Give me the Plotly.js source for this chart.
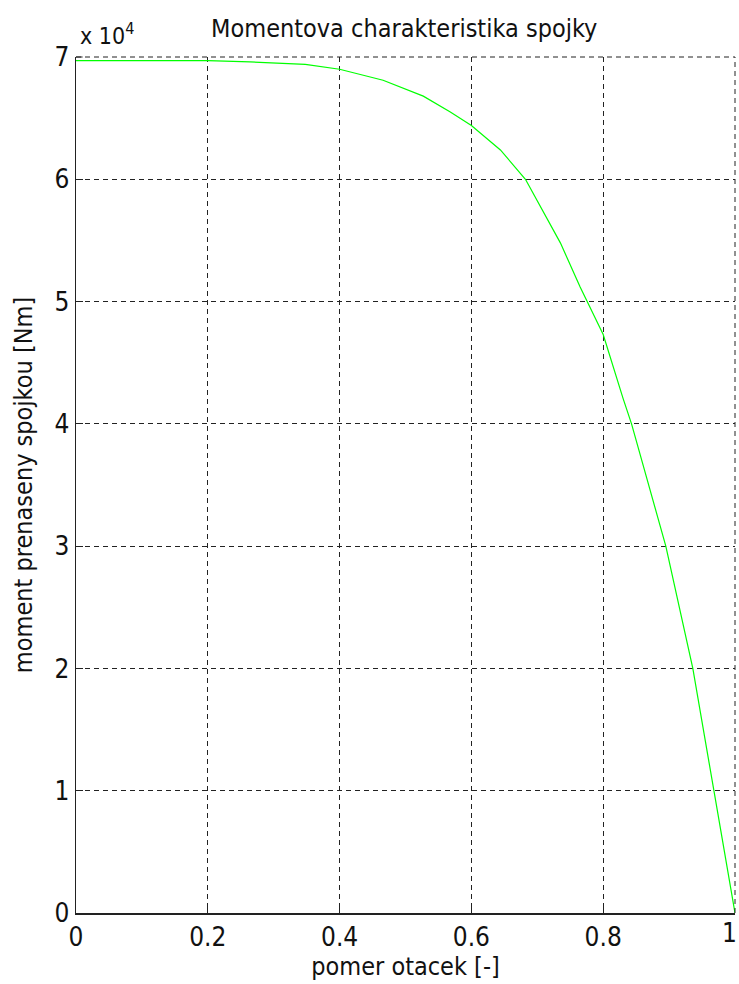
<!DOCTYPE html>
<html>
<head>
<meta charset="utf-8">
<script src="https://cdn.plot.ly/plotly-3.0.1.min.js"></script>
<style>
  html, body { margin: 0; padding: 0; background: #fff; }
  #chart { width: 739px; height: 984px; }
</style>
</head>
<body>
<div id="chart"></div>
<script>
// speed ratio [-]
const speedRatio = [0, 0.1, 0.2, 0.264, 0.348, 0.4, 0.466, 0.527, 0.568, 0.6, 0.644, 0.682, 0.704, 0.735, 0.765, 0.776, 0.8, 0.83, 0.843, 0.895, 0.936, 0.968, 1.0];
// transmitted torque [Nm]
const torque = [69700, 69700, 69700, 69600, 69400, 69000, 68100, 66800, 65500, 64400, 62400, 60000, 57800, 54800, 51200, 50000, 47300, 42100, 40000, 30000, 20000, 10000, 0];

const xTickVals = [0, 0.2, 0.4, 0.6, 0.8, 1];
const xTickText = ['0', '0.2', '0.4', '0.6', '0.8', '1'];
const yTickVals = [0, 10000, 20000, 30000, 40000, 50000, 60000, 70000];
const yTickText = ['0', '1', '2', '3', '4', '5', '6', '7'];

const FONT = '"Liberation Sans Narrow", "DejaVu Sans Condensed", "Liberation Sans", sans-serif';
const GRID = '#222';
const DASH = '5px,4px';

// the last x tick label sits on the page edge: draw it as an annotation pulled slightly inward
const lastIdx = xTickText.length - 1;
const xTickTextAxis = xTickText.map((t, i) => (i === lastIdx ? '' : t));

const trace = {
  x: speedRatio,
  y: torque,
  type: 'scatter',
  mode: 'lines',
  line: { color: '#00ff00', width: 1.2 },
  hoverinfo: 'skip'
};

const axisCommon = {
  showline: true,
  linecolor: '#222',
  linewidth: 1.5,
  mirror: false,
  ticks: 'inside',
  ticklen: 7,
  tickwidth: 1,
  tickcolor: '#222',
  showgrid: true,
  gridcolor: GRID,
  gridwidth: 1,
  griddash: DASH,
  zeroline: false,
  tickfont: { family: FONT, size: 26, color: '#111' },
  fixedrange: true
};

const layout = {
  width: 739,
  height: 984,
  margin: { l: 76, r: 4, t: 57, b: 71 },
  paper_bgcolor: '#fff',
  plot_bgcolor: '#fff',
  showlegend: false,
  title: {
    text: 'Momentova charakteristika spojky',
    font: { family: FONT, size: 25, color: '#111' },
    x: 0.547, xanchor: 'center',
    y: 0.962, yanchor: 'bottom'
  },
  xaxis: Object.assign({}, axisCommon, {
    range: [0, 1],
    tickvals: xTickVals,
    ticktext: xTickTextAxis,
    title: { text: 'pomer otacek [-]', font: { family: FONT, size: 25, color: '#111' }, standoff: 4 }
  }),
  yaxis: Object.assign({}, axisCommon, {
    range: [0, 70000],
    tickvals: yTickVals,
    ticktext: yTickText,
    title: { text: 'moment prenaseny spojkou [Nm]', font: { family: FONT, size: 25, color: '#111' }, standoff: 14 }
  }),
  shapes: [
    { type: 'line', xref: 'paper', yref: 'paper', x0: 0, x1: 1, y0: 1, y1: 1,
      line: { color: GRID, width: 1, dash: DASH } },
    { type: 'line', xref: 'paper', yref: 'paper', x0: 1, x1: 1, y0: 0, y1: 1,
      line: { color: GRID, width: 1, dash: DASH } },
    { type: 'line', xref: 'paper', yref: 'paper', x0: 0, x1: 0.01, y0: 1, y1: 1,
      line: { color: '#222', width: 1 } }
  ],
  annotations: [
    {
      xref: 'paper', yref: 'paper',
      x: 0.003, y: 1.0,
      xanchor: 'left', yanchor: 'bottom',
      yshift: 6,
      text: 'x 10<sup>4</sup>',
      showarrow: false,
      font: { family: FONT, size: 23, color: '#111' }
    },
    {
      xref: 'x', yref: 'paper',
      x: xTickVals[lastIdx], y: 0,
      xanchor: 'right', yanchor: 'top',
      xshift: 4, yshift: -3,
      text: xTickText[lastIdx],
      showarrow: false,
      font: { family: FONT, size: 26, color: '#111' }
    }
  ]
};

Plotly.newPlot('chart', [trace], layout, { displayModeBar: false, staticPlot: true });
</script>
</body>
</html>
